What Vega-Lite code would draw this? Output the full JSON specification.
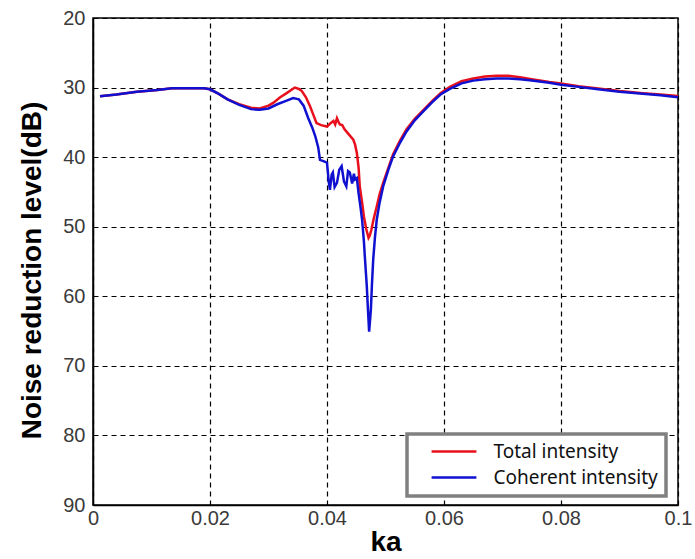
{
  "$schema": "https://vega.github.io/schema/vega-lite/v6.json",
  "autosize": {"type": "none"},
  "width": 585,
  "height": 487,
  "padding": {"left": 93, "top": 18, "right": 17, "bottom": 54},
  "background": "white",
  "config": {
    "view": {"stroke": "#000000", "strokeWidth": 1.5},
    "axis": {
      "labelFont": "Liberation Sans",
      "labelFontSize": 20,
      "labelColor": "#3a3a3a",
      "titleFont": "Liberation Sans",
      "titleFontSize": 28,
      "titleFontWeight": "bold",
      "titleColor": "#000000",
      "gridColor": "#000000",
      "gridDash": [5, 4],
      "gridWidth": 1.2,
      "gridOpacity": 1,
      "domainColor": "#000000",
      "domainWidth": 1.5,
      "ticks": false
    }
  },
  "datasets": {
    "curves": [
      {"ka": 0.0012, "level": 31.25, "series": "Total intensity"},
      {"ka": 0.004, "level": 31.0, "series": "Total intensity"},
      {"ka": 0.0075, "level": 30.6, "series": "Total intensity"},
      {"ka": 0.011, "level": 30.35, "series": "Total intensity"},
      {"ka": 0.0135, "level": 30.1, "series": "Total intensity"},
      {"ka": 0.019, "level": 30.1, "series": "Total intensity"},
      {"ka": 0.020, "level": 30.25, "series": "Total intensity"},
      {"ka": 0.0215, "level": 30.9, "series": "Total intensity"},
      {"ka": 0.023, "level": 31.7, "series": "Total intensity"},
      {"ka": 0.025, "level": 32.4, "series": "Total intensity"},
      {"ka": 0.027, "level": 32.9, "series": "Total intensity"},
      {"ka": 0.0285, "level": 33.0, "series": "Total intensity"},
      {"ka": 0.030, "level": 32.6, "series": "Total intensity"},
      {"ka": 0.0308, "level": 32.2, "series": "Total intensity"},
      {"ka": 0.032, "level": 31.4, "series": "Total intensity"},
      {"ka": 0.0331, "level": 30.8, "series": "Total intensity"},
      {"ka": 0.0345, "level": 30.0, "series": "Total intensity"},
      {"ka": 0.0352, "level": 30.2, "series": "Total intensity"},
      {"ka": 0.0357, "level": 30.5, "series": "Total intensity"},
      {"ka": 0.0364, "level": 31.4, "series": "Total intensity"},
      {"ka": 0.0371, "level": 32.7, "series": "Total intensity"},
      {"ka": 0.0377, "level": 34.0, "series": "Total intensity"},
      {"ka": 0.0382, "level": 35.1, "series": "Total intensity"},
      {"ka": 0.039, "level": 35.4, "series": "Total intensity"},
      {"ka": 0.040, "level": 35.6, "series": "Total intensity"},
      {"ka": 0.0405, "level": 35.2, "series": "Total intensity"},
      {"ka": 0.0411, "level": 34.8, "series": "Total intensity"},
      {"ka": 0.0414, "level": 35.3, "series": "Total intensity"},
      {"ka": 0.0417, "level": 34.4, "series": "Total intensity"},
      {"ka": 0.042, "level": 35.0, "series": "Total intensity"},
      {"ka": 0.0422, "level": 35.3, "series": "Total intensity"},
      {"ka": 0.0426, "level": 35.4, "series": "Total intensity"},
      {"ka": 0.043, "level": 36.0, "series": "Total intensity"},
      {"ka": 0.0433, "level": 36.3, "series": "Total intensity"},
      {"ka": 0.0438, "level": 36.8, "series": "Total intensity"},
      {"ka": 0.0445, "level": 37.5, "series": "Total intensity"},
      {"ka": 0.0448, "level": 38.2, "series": "Total intensity"},
      {"ka": 0.0451, "level": 39.4, "series": "Total intensity"},
      {"ka": 0.0454, "level": 41.5, "series": "Total intensity"},
      {"ka": 0.0456, "level": 44.2, "series": "Total intensity"},
      {"ka": 0.046, "level": 46.5, "series": "Total intensity"},
      {"ka": 0.0463, "level": 48.5, "series": "Total intensity"},
      {"ka": 0.0467, "level": 50.3, "series": "Total intensity"},
      {"ka": 0.0471, "level": 51.6, "series": "Total intensity"},
      {"ka": 0.0473, "level": 51.3, "series": "Total intensity"},
      {"ka": 0.0476, "level": 50.4, "series": "Total intensity"},
      {"ka": 0.048, "level": 48.8, "series": "Total intensity"},
      {"ka": 0.0485, "level": 47.1, "series": "Total intensity"},
      {"ka": 0.049, "level": 45.3, "series": "Total intensity"},
      {"ka": 0.0496, "level": 43.7, "series": "Total intensity"},
      {"ka": 0.0505, "level": 41.5, "series": "Total intensity"},
      {"ka": 0.0513, "level": 39.6, "series": "Total intensity"},
      {"ka": 0.0525, "level": 37.6, "series": "Total intensity"},
      {"ka": 0.0536, "level": 36.0, "series": "Total intensity"},
      {"ka": 0.055, "level": 34.5, "series": "Total intensity"},
      {"ka": 0.0565, "level": 33.2, "series": "Total intensity"},
      {"ka": 0.058, "level": 31.9, "series": "Total intensity"},
      {"ka": 0.0594, "level": 30.8, "series": "Total intensity"},
      {"ka": 0.061, "level": 29.9, "series": "Total intensity"},
      {"ka": 0.063, "level": 29.1, "series": "Total intensity"},
      {"ka": 0.065, "level": 28.7, "series": "Total intensity"},
      {"ka": 0.067, "level": 28.4, "series": "Total intensity"},
      {"ka": 0.069, "level": 28.3, "series": "Total intensity"},
      {"ka": 0.071, "level": 28.3, "series": "Total intensity"},
      {"ka": 0.073, "level": 28.5, "series": "Total intensity"},
      {"ka": 0.075, "level": 28.8, "series": "Total intensity"},
      {"ka": 0.078, "level": 29.2, "series": "Total intensity"},
      {"ka": 0.080, "level": 29.4, "series": "Total intensity"},
      {"ka": 0.083, "level": 29.8, "series": "Total intensity"},
      {"ka": 0.086, "level": 30.1, "series": "Total intensity"},
      {"ka": 0.090, "level": 30.5, "series": "Total intensity"},
      {"ka": 0.094, "level": 30.8, "series": "Total intensity"},
      {"ka": 0.097, "level": 31.0, "series": "Total intensity"},
      {"ka": 0.100, "level": 31.2, "series": "Total intensity"},

      {"ka": 0.0012, "level": 31.25, "series": "Coherent intensity"},
      {"ka": 0.004, "level": 31.0, "series": "Coherent intensity"},
      {"ka": 0.0075, "level": 30.6, "series": "Coherent intensity"},
      {"ka": 0.011, "level": 30.35, "series": "Coherent intensity"},
      {"ka": 0.0135, "level": 30.1, "series": "Coherent intensity"},
      {"ka": 0.019, "level": 30.1, "series": "Coherent intensity"},
      {"ka": 0.020, "level": 30.25, "series": "Coherent intensity"},
      {"ka": 0.0215, "level": 30.9, "series": "Coherent intensity"},
      {"ka": 0.023, "level": 31.7, "series": "Coherent intensity"},
      {"ka": 0.025, "level": 32.5, "series": "Coherent intensity"},
      {"ka": 0.027, "level": 33.1, "series": "Coherent intensity"},
      {"ka": 0.0285, "level": 33.2, "series": "Coherent intensity"},
      {"ka": 0.030, "level": 33.0, "series": "Coherent intensity"},
      {"ka": 0.0315, "level": 32.4, "series": "Coherent intensity"},
      {"ka": 0.033, "level": 31.9, "series": "Coherent intensity"},
      {"ka": 0.0342, "level": 31.5, "series": "Coherent intensity"},
      {"ka": 0.0352, "level": 31.7, "series": "Coherent intensity"},
      {"ka": 0.036, "level": 32.6, "series": "Coherent intensity"},
      {"ka": 0.0368, "level": 34.4, "series": "Coherent intensity"},
      {"ka": 0.0375, "level": 35.8, "series": "Coherent intensity"},
      {"ka": 0.038, "level": 37.0, "series": "Coherent intensity"},
      {"ka": 0.0385, "level": 38.6, "series": "Coherent intensity"},
      {"ka": 0.0388, "level": 40.4, "series": "Coherent intensity"},
      {"ka": 0.0395, "level": 40.6, "series": "Coherent intensity"},
      {"ka": 0.040, "level": 40.8, "series": "Coherent intensity"},
      {"ka": 0.0403, "level": 43.5, "series": "Coherent intensity"},
      {"ka": 0.0405, "level": 44.7, "series": "Coherent intensity"},
      {"ka": 0.0408, "level": 42.5, "series": "Coherent intensity"},
      {"ka": 0.041, "level": 42.2, "series": "Coherent intensity"},
      {"ka": 0.0413, "level": 44.3, "series": "Coherent intensity"},
      {"ka": 0.0417, "level": 43.7, "series": "Coherent intensity"},
      {"ka": 0.0421, "level": 41.8, "series": "Coherent intensity"},
      {"ka": 0.0425, "level": 41.3, "series": "Coherent intensity"},
      {"ka": 0.0429, "level": 43.5, "series": "Coherent intensity"},
      {"ka": 0.0433, "level": 44.2, "series": "Coherent intensity"},
      {"ka": 0.0436, "level": 42.0, "series": "Coherent intensity"},
      {"ka": 0.0439, "level": 42.2, "series": "Coherent intensity"},
      {"ka": 0.0443, "level": 43.8, "series": "Coherent intensity"},
      {"ka": 0.0446, "level": 42.4, "series": "Coherent intensity"},
      {"ka": 0.0448, "level": 43.2, "series": "Coherent intensity"},
      {"ka": 0.0451, "level": 43.0, "series": "Coherent intensity"},
      {"ka": 0.0454, "level": 45.2, "series": "Coherent intensity"},
      {"ka": 0.0457, "level": 47.0, "series": "Coherent intensity"},
      {"ka": 0.046, "level": 49.0, "series": "Coherent intensity"},
      {"ka": 0.0463, "level": 52.0, "series": "Coherent intensity"},
      {"ka": 0.0465, "level": 54.7, "series": "Coherent intensity"},
      {"ka": 0.0468, "level": 58.5, "series": "Coherent intensity"},
      {"ka": 0.047, "level": 61.9, "series": "Coherent intensity"},
      {"ka": 0.0472, "level": 65.1, "series": "Coherent intensity"},
      {"ka": 0.0474, "level": 63.0, "series": "Coherent intensity"},
      {"ka": 0.0475, "level": 61.9, "series": "Coherent intensity"},
      {"ka": 0.0477, "level": 58.0, "series": "Coherent intensity"},
      {"ka": 0.0479, "level": 54.7, "series": "Coherent intensity"},
      {"ka": 0.0482, "level": 51.5, "series": "Coherent intensity"},
      {"ka": 0.0485, "level": 49.0, "series": "Coherent intensity"},
      {"ka": 0.049, "level": 46.5, "series": "Coherent intensity"},
      {"ka": 0.0496, "level": 44.2, "series": "Coherent intensity"},
      {"ka": 0.0505, "level": 41.8, "series": "Coherent intensity"},
      {"ka": 0.0513, "level": 39.9, "series": "Coherent intensity"},
      {"ka": 0.0525, "level": 37.9, "series": "Coherent intensity"},
      {"ka": 0.0536, "level": 36.3, "series": "Coherent intensity"},
      {"ka": 0.055, "level": 34.7, "series": "Coherent intensity"},
      {"ka": 0.0565, "level": 33.4, "series": "Coherent intensity"},
      {"ka": 0.058, "level": 32.1, "series": "Coherent intensity"},
      {"ka": 0.0594, "level": 31.0, "series": "Coherent intensity"},
      {"ka": 0.061, "level": 30.2, "series": "Coherent intensity"},
      {"ka": 0.063, "level": 29.4, "series": "Coherent intensity"},
      {"ka": 0.065, "level": 29.0, "series": "Coherent intensity"},
      {"ka": 0.067, "level": 28.8, "series": "Coherent intensity"},
      {"ka": 0.069, "level": 28.7, "series": "Coherent intensity"},
      {"ka": 0.071, "level": 28.7, "series": "Coherent intensity"},
      {"ka": 0.073, "level": 28.8, "series": "Coherent intensity"},
      {"ka": 0.075, "level": 29.0, "series": "Coherent intensity"},
      {"ka": 0.078, "level": 29.3, "series": "Coherent intensity"},
      {"ka": 0.080, "level": 29.6, "series": "Coherent intensity"},
      {"ka": 0.083, "level": 29.9, "series": "Coherent intensity"},
      {"ka": 0.086, "level": 30.2, "series": "Coherent intensity"},
      {"ka": 0.090, "level": 30.6, "series": "Coherent intensity"},
      {"ka": 0.094, "level": 30.9, "series": "Coherent intensity"},
      {"ka": 0.097, "level": 31.1, "series": "Coherent intensity"},
      {"ka": 0.100, "level": 31.4, "series": "Coherent intensity"}
    ]
  },
  "data": {"name": "curves"},
  "mark": {"type": "line", "strokeWidth": 2.5, "clip": true},
  "encoding": {
    "x": {
      "field": "ka",
      "type": "quantitative",
      "scale": {"domain": [0, 0.1], "nice": false},
      "axis": {"values": [0, 0.02, 0.04, 0.06, 0.08, 0.1], "format": "~g", "title": "ka", "labelPadding": 3, "titlePadding": 0, "labelFlush": false}
    },
    "y": {
      "field": "level",
      "type": "quantitative",
      "scale": {"domain": [20, 90], "reverse": true, "nice": false, "zero": false},
      "axis": {"values": [20, 30, 40, 50, 60, 70, 80, 90], "title": "Noise reduction level(dB)", "labelPadding": 8, "titlePadding": 16, "labelFlush": false, "titleY": 252}
    },
    "color": {
      "field": "series",
      "type": "nominal",
      "scale": {"domain": ["Total intensity", "Coherent intensity"], "range": ["#e8101c", "#1010d0"]},
      "legend": {
        "title": null,
        "orient": "none",
        "legendX": 314,
        "legendY": 416,
        "symbolType": "M-2.8,0H2.8",
        "symbolSize": 256,
        "symbolStrokeWidth": 2.5,
        "symbolOffset": 29.5,
        "labelFont": "Noto Sans",
        "labelFontSize": 19,
        "labelColor": "#111111",
        "labelLimit": 400,
        "strokeColor": "#808080",
        "fillColor": "#ffffff",
        "padding": 8,
        "rowPadding": 6,
        "labelOffset": 30,
        "encode": {"legend": {"update": {"strokeWidth": {"value": 3.5}}}}
      }
    },
    "order": {"field": "series", "sort": "descending"}
  }
}
